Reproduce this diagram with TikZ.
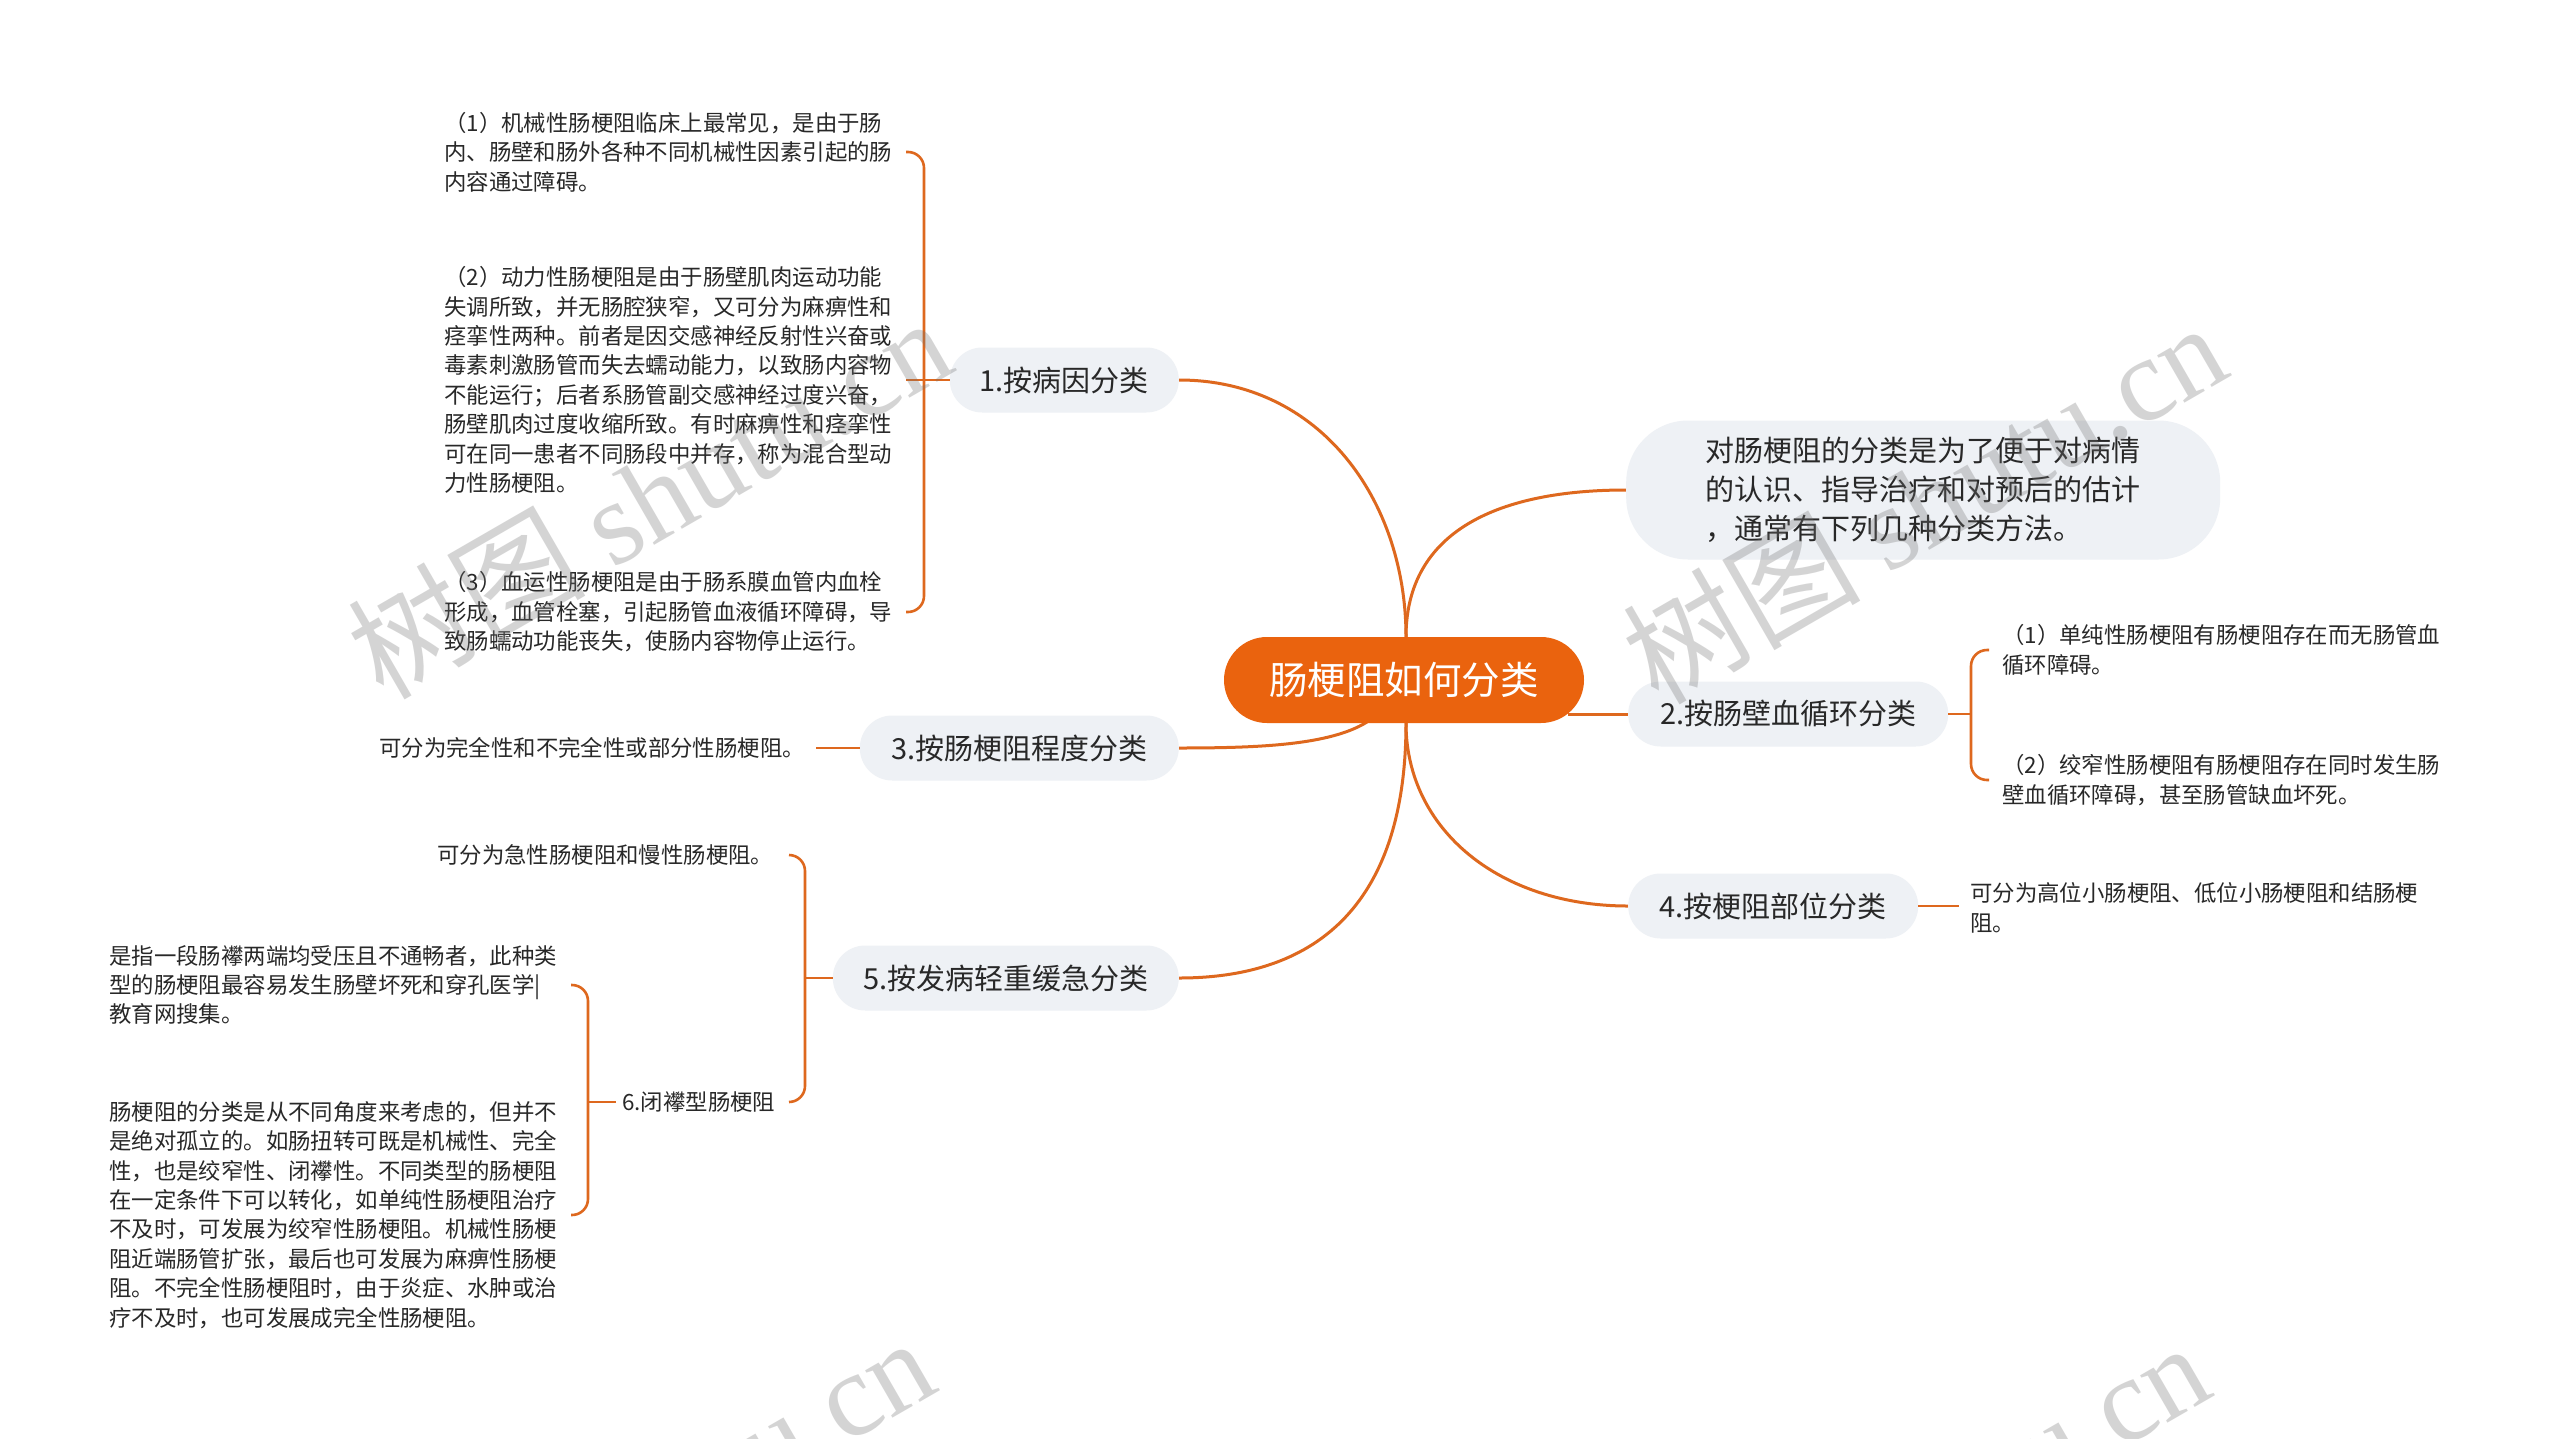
\documentclass[tikz,border=0pt]{standalone}
\usepackage{fontspec}
\setmainfont{Noto Sans CJK SC}
\newfontfamily\wmlat{Liberation Serif}
\usetikzlibrary{backgrounds}
\definecolor{lnc}{RGB}{222,104,30}
\definecolor{corec}{RGB}{234,99,14}
\definecolor{pillc}{RGB}{238,241,245}
\definecolor{txtc}{RGB}{40,40,40}
\tikzset{
  conn/.style={draw=lnc, line width=3pt},
  brk/.style={draw=lnc, line width=2.6pt, rounded corners=16pt},
  corenode/.style={rectangle, rounded corners=43pt, fill=corec, text=white, minimum width=360pt, minimum height=86pt, inner sep=0pt, font=\fontsize{38.5}{46}\selectfont},
  topic/.style={rectangle, rounded corners=32.5pt, fill=pillc, text=txtc, minimum height=65pt, inner sep=0pt, font=\fontsize{29}{36}\selectfont},
  leaf/.style={inner sep=0pt, align=left, text=txtc, anchor=west, font=\fontsize{22.4}{29.4}\selectfont},
  wmark/.style={text=black!55, opacity=0.3, rotate=30, anchor=base west, inner sep=0pt, font=\fontsize{119}{119}\selectfont},
}
\begin{document}
\begin{tikzpicture}[x=1pt,y=-1pt]
\useasboundingbox (0,0) rectangle (2560,1438);

% central topic
\node[corenode] (cn) at (1404,680) {肠梗阻如何分类};
\coordinate (ct) at (1406,637);
\coordinate (cb) at (1406,723);
\coordinate (cbl) at (1367,722);
\coordinate (cr) at (1568,714);

% main topics
\node[topic, minimum width=229pt, anchor=east] (n1) at (1179,380) {1.按病因分类};
\node[topic, minimum width=319pt, anchor=east] (n3) at (1179,748) {3.按肠梗阻程度分类};
\node[topic, minimum width=346pt, anchor=east] (n5) at (1179,978) {5.按发病轻重缓急分类};
\node[topic, minimum width=320pt, anchor=west] (n2) at (1628,714) {2.按肠壁血循环分类};
\node[topic, minimum width=290pt, anchor=west] (n4) at (1628,906) {4.按梗阻部位分类};
\node[topic, rounded corners=62pt, minimum width=594pt, minimum height=139pt, align=left, anchor=west, font=\fontsize{29}{39}\selectfont] (ds) at (1626,490) {对肠梗阻的分类是为了便于对病情\\的认识、指导治疗和对预后的估计\\，通常有下列几种分类方法。};

% leaves of 1
\node[leaf] (a1) at (444,152) {（1）机械性肠梗阻临床上最常见，是由于肠\\内、肠壁和肠外各种不同机械性因素引起的肠\\内容通过障碍。};
\node[leaf] (a2) at (444,380) {（2）动力性肠梗阻是由于肠壁肌肉运动功能\\失调所致，并无肠腔狭窄，又可分为麻痹性和\\痉挛性两种。前者是因交感神经反射性兴奋或\\毒素刺激肠管而失去蠕动能力，以致肠内容物\\不能运行；后者系肠管副交感神经过度兴奋，\\肠壁肌肉过度收缩所致。有时麻痹性和痉挛性\\可在同一患者不同肠段中并存，称为混合型动\\力性肠梗阻。};
\node[leaf] (a3) at (444,612) {（3）血运性肠梗阻是由于肠系膜血管内血栓\\形成，血管栓塞，引起肠管血液循环障碍，导\\致肠蠕动功能丧失，使肠内容物停止运行。};

% leaf of 3
\node[leaf] (b1) at (379,748) {可分为完全性和不完全性或部分性肠梗阻。};

% leaves of 5
\node[leaf] (e1) at (437,855) {可分为急性肠梗阻和慢性肠梗阻。};
\node[leaf, inner xsep=6pt] (n6) at (616,1102) {6.闭襻型肠梗阻};
\node[leaf] (f1) at (109,985) {是指一段肠襻两端均受压且不通畅者，此种类\\型的肠梗阻最容易发生肠壁坏死和穿孔医学|\\教育网搜集。};
\node[leaf] (f2) at (109,1215) {肠梗阻的分类是从不同角度来考虑的，但并不\\是绝对孤立的。如肠扭转可既是机械性、完全\\性，也是绞窄性、闭襻性。不同类型的肠梗阻\\在一定条件下可以转化，如单纯性肠梗阻治疗\\不及时，可发展为绞窄性肠梗阻。机械性肠梗\\阻近端肠管扩张，最后也可发展为麻痹性肠梗\\阻。不完全性肠梗阻时，由于炎症、水肿或治\\疗不及时，也可发展成完全性肠梗阻。};

% leaves of 2 and 4
\node[leaf] (d1) at (2002,650) {（1）单纯性肠梗阻有肠梗阻存在而无肠管血\\循环障碍。};
\node[leaf] (d2) at (2002,780) {（2）绞窄性肠梗阻有肠梗阻存在同时发生肠\\壁血循环障碍，甚至肠管缺血坏死。};
\node[leaf] (g1) at (1970,908) {可分为高位小肠梗阻、低位小肠梗阻和结肠梗\\阻。};

% bracket coordinates
\coordinate (b1t) at (906,152); \coordinate (b1m) at (906,380); \coordinate (b1b) at (906,612);
\coordinate (b5t) at (789,855); \coordinate (b5m) at (805,978); \coordinate (b5b) at (789,1102);
\coordinate (b6t) at (571,985); \coordinate (b6m) at (588,1102); \coordinate (b6b) at (571,1215);
\coordinate (b2t) at (1989,650); \coordinate (b2m) at (1971,714); \coordinate (b2b) at (1989,780);
\coordinate (g1c) at (1959,906);
\coordinate (b3c) at (816,748);

\begin{scope}[on background layer]
\fill[white] (0,0) rectangle (2560,1438);
\draw[conn] (n1.east) .. controls (1320,380) and (1406,500) .. (ct);
\draw[conn] (ct) .. controls (1406,530) and (1500,490) .. (ds.west);
\draw[conn] (cbl) .. controls (1330,745) and (1260,748) .. (n3.east);
\draw[conn] (cb) .. controls (1406,890) and (1330,978) .. (n5.east);
\draw[conn] (cb) .. controls (1406,830) and (1500,906) .. (n4.west);
\draw[conn] (cr) -- (n2.west);
\end{scope}

% brackets
\draw[brk] (b1t) -| (924,380) |- (b1b);
\draw[brk] (b1m) -- (n1.west);
\draw[brk] (b5t) -| (b5m) |- (b5b);
\draw[brk] (b5m) -- (n5.west);
\draw[brk] (b6t) -| (b6m) |- (b6b);
\draw[brk] (b6m) -- (n6.west);
\draw[brk] (b2t) -| (b2m) |- (b2b);
\draw[brk] (n2.east) -- (b2m);
\draw[brk] (n4.east) -- (g1c);
\draw[brk] (b3c) -- (n3.west);

% watermarks
\begin{scope}
\clip (0,0) rectangle (2560,1438);
\node[wmark] (w1) at (383,702) {树图 {\wmlat shutu.cn}};
\node[wmark] (w2) at (1658,707) {树图 {\wmlat shutu.cn}};
\node[wmark] (w3) at (366,1722) {树图 {\wmlat shutu.cn}};
\node[wmark] (w4) at (1641,1727) {树图 {\wmlat shutu.cn}};
\end{scope}
\end{tikzpicture}
\end{document}
